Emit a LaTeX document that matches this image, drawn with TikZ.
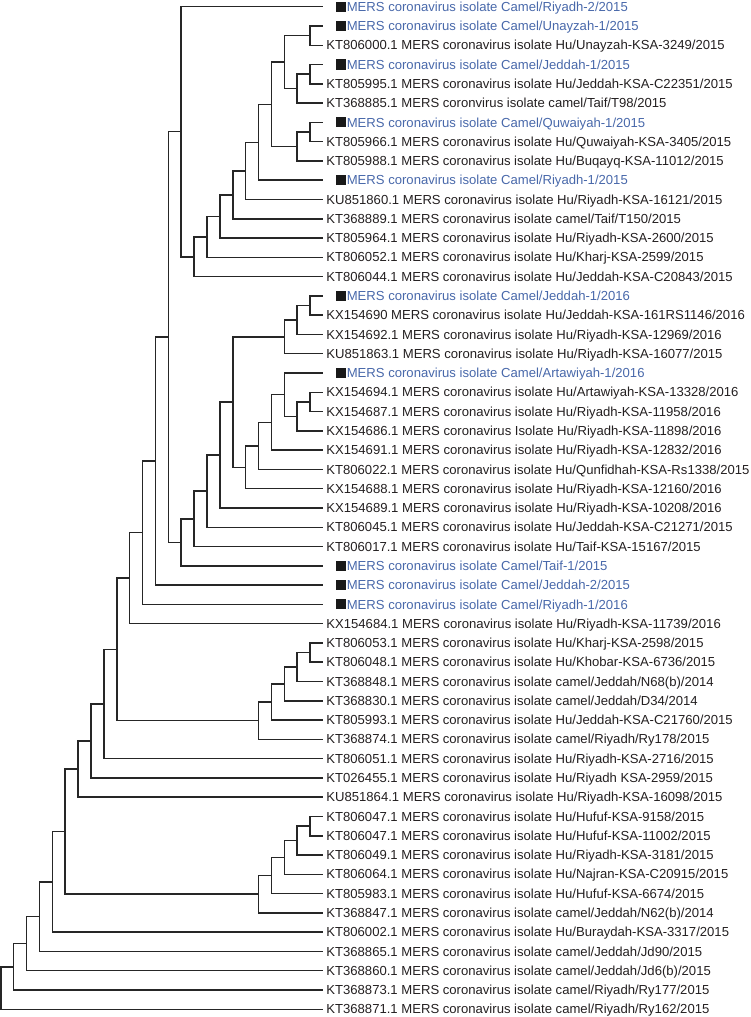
\documentclass[tikz,border=0pt]{standalone}
\usepackage{fontspec}
\setmainfont{Liberation Sans}
\usepackage{tikz}
\usetikzlibrary{calc}
\definecolor{camelblue}{RGB}{72,104,170}
\definecolor{inkgray}{RGB}{35,31,32}
\tikzset{
  branch/.style={line width=1.5pt, color=black!85},
  hutext/.style={anchor=base west, inner sep=0pt, text=inkgray, font=\fontsize{13.1}{15}\selectfont},
  cameltext/.style={hutext, text=camelblue},
  camelbox/.style={fill=black!90, inner sep=0pt, minimum size=10.2pt}
}
% leaf y in px, level step 12.89 px
\def\leafy#1{6.7+19.28*(#1-1)}
\newcommand\hulabel[2]{%
  \coordinate (l#1) at (323,{\leafy{#1}});
  \node[hutext] (t#1) at ([xshift=3.2pt,yshift=-4.65pt]l#1) {#2};}
\newcommand\camellabel[2]{%
  \coordinate (l#1) at (323,{\leafy{#1}});
  \node[camelbox] (s#1) at ([xshift=18pt]l#1) {};
  \node[cameltext] (t#1) at ([xshift=23.6pt,yshift=-4.65pt]l#1) {#2};}
\newcommand\clade[4]{%
  \path let \p1=(#3), \p2=(#4) in ({323-#2*12.89},{0.5*(\y1+\y2)}) coordinate (#1);
  \draw[branch] (#1) |- (#3) (#1) |- (#4);}

\begin{document}
\begin{tikzpicture}[x=1pt,y=-1pt]
  \useasboundingbox (0,0) rectangle (750,1017);
  %%%%% LEAVES %%%%%
  \camellabel{1}{MERS coronavirus isolate Camel/Riyadh-2/2015}
  \camellabel{2}{MERS coronavirus isolate Camel/Unayzah-1/2015}
  \hulabel{3}{KT806000.1 MERS coronavirus isolate Hu/Unayzah-KSA-3249/2015}
  \camellabel{4}{MERS coronavirus isolate Camel/Jeddah-1/2015}
  \hulabel{5}{KT805995.1 MERS coronavirus isolate Hu/Jeddah-KSA-C22351/2015}
  \hulabel{6}{KT368885.1 MERS coronvirus isolate camel/Taif/T98/2015}
  \camellabel{7}{MERS coronavirus isolate Camel/Quwaiyah-1/2015}
  \hulabel{8}{KT805966.1 MERS coronavirus isolate Hu/Quwaiyah-KSA-3405/2015}
  \hulabel{9}{KT805988.1 MERS coronavirus isolate Hu/Buqayq-KSA-11012/2015}
  \camellabel{10}{MERS coronavirus isolate Camel/Riyadh-1/2015}
  \hulabel{11}{KU851860.1 MERS coronavirus isolate Hu/Riyadh-KSA-16121/2015}
  \hulabel{12}{KT368889.1 MERS coronavirus isolate camel/Taif/T150/2015}
  \hulabel{13}{KT805964.1 MERS coronavirus isolate Hu/Riyadh-KSA-2600/2015}
  \hulabel{14}{KT806052.1 MERS coronavirus isolate Hu/Kharj-KSA-2599/2015}
  \hulabel{15}{KT806044.1 MERS coronavirus isolate Hu/Jeddah-KSA-C20843/2015}
  \camellabel{16}{MERS coronavirus isolate Camel/Jeddah-1/2016}
  \hulabel{17}{KX154690 MERS coronavirus isolate Hu/Jeddah-KSA-161RS1146/2016}
  \hulabel{18}{KX154692.1 MERS coronavirus isolate Hu/Riyadh-KSA-12969/2016}
  \hulabel{19}{KU851863.1 MERS coronavirus isolate Hu/Riyadh-KSA-16077/2015}
  \camellabel{20}{MERS coronavirus isolate Camel/Artawiyah-1/2016}
  \hulabel{21}{KX154694.1 MERS coronavirus isolate Hu/Artawiyah-KSA-13328/2016}
  \hulabel{22}{KX154687.1 MERS coronavirus isolate Hu/Riyadh-KSA-11958/2016}
  \hulabel{23}{KX154686.1 MERS coronavirus Isolate Hu/Riyadh-KSA-11898/2016}
  \hulabel{24}{KX154691.1 MERS coronavirus isolate Hu/Riyadh-KSA-12832/2016}
  \hulabel{25}{KT806022.1 MERS coronavirus isolate Hu/Qunfidhah-KSA-Rs1338/2015}
  \hulabel{26}{KX154688.1 MERS coronavirus isolate Hu/Riyadh-KSA-12160/2016}
  \hulabel{27}{KX154689.1 MERS coronavirus isolate Hu/Riyadh-KSA-10208/2016}
  \hulabel{28}{KT806045.1 MERS coronavirus isolate Hu/Jeddah-KSA-C21271/2015}
  \hulabel{29}{KT806017.1 MERS coronavirus isolate Hu/Taif-KSA-15167/2015}
  \camellabel{30}{MERS coronavirus isolate Camel/Taif-1/2015}
  \camellabel{31}{MERS coronavirus isolate Camel/Jeddah-2/2015}
  \camellabel{32}{MERS coronavirus isolate Camel/Riyadh-1/2016}
  \hulabel{33}{KX154684.1 MERS coronavirus isolate Hu/Riyadh-KSA-11739/2016}
  \hulabel{34}{KT806053.1 MERS coronavirus isolate Hu/Kharj-KSA-2598/2015}
  \hulabel{35}{KT806048.1 MERS coronavirus isolate Hu/Khobar-KSA-6736/2015}
  \hulabel{36}{KT368848.1 MERS coronavirus isolate camel/Jeddah/N68(b)/2014}
  \hulabel{37}{KT368830.1 MERS coronavirus isolate camel/Jeddah/D34/2014}
  \hulabel{38}{KT805993.1 MERS coronavirus isolate Hu/Jeddah-KSA-C21760/2015}
  \hulabel{39}{KT368874.1 MERS coronavirus isolate camel/Riyadh/Ry178/2015}
  \hulabel{40}{KT806051.1 MERS coronavirus isolate Hu/Riyadh-KSA-2716/2015}
  \hulabel{41}{KT026455.1 MERS coronavirus isolate Hu/Riyadh KSA-2959/2015}
  \hulabel{42}{KU851864.1 MERS coronavirus isolate Hu/Riyadh-KSA-16098/2015}
  \hulabel{43}{KT806047.1 MERS coronavirus isolate Hu/Hufuf-KSA-9158/2015}
  \hulabel{44}{KT806047.1 MERS coronavirus isolate Hu/Hufuf-KSA-11002/2015}
  \hulabel{45}{KT806049.1 MERS coronavirus isolate Hu/Riyadh-KSA-3181/2015}
  \hulabel{46}{KT806064.1 MERS coronavirus isolate Hu/Najran-KSA-C20915/2015}
  \hulabel{47}{KT805983.1 MERS coronavirus isolate Hu/Hufuf-KSA-6674/2015}
  \hulabel{48}{KT368847.1 MERS coronavirus isolate camel/Jeddah/N62(b)/2014}
  \hulabel{49}{KT806002.1 MERS coronavirus isolate Hu/Buraydah-KSA-3317/2015}
  \hulabel{50}{KT368865.1 MERS coronavirus isolate camel/Jeddah/Jd90/2015}
  \hulabel{51}{KT368860.1 MERS coronavirus isolate camel/Jeddah/Jd6(b)/2015}
  \hulabel{52}{KT368873.1 MERS coronavirus isolate camel/Riyadh/Ry177/2015}
  \hulabel{53}{KT368871.1 MERS coronavirus isolate camel/Riyadh/Ry162/2015}

  %%%%% TOP CLADE %%%%%
  \clade{c23}{1}{l2}{l3}
  \clade{c45}{1}{l4}{l5}
  \clade{c456}{2}{c45}{l6}
  \clade{nI}{3}{c23}{c456}
  \clade{c78}{1}{l7}{l8}
  \clade{nJ}{2}{c78}{l9}
  \clade{nH}{4}{nI}{nJ}
  \clade{nG}{5}{nH}{l10}
  \clade{nF}{6}{nG}{l11}
  \clade{nE}{7}{nF}{l12}
  \clade{nD}{8}{nE}{l13}
  \clade{nC}{9}{nD}{l14}
  \clade{nB}{10}{nC}{l15}
  \clade{nA}{11}{l1}{nB}

  %%%%% 2016 CLADE %%%%%
  \clade{c1617}{1}{l16}{l17}
  \clade{nT}{2}{c1617}{l18}
  \clade{nS}{3}{nT}{l19}
  \clade{c2122}{1}{l21}{l22}
  \clade{nX}{2}{c2122}{l23}
  \clade{nW}{3}{l20}{nX}
  \clade{nV}{4}{nW}{l24}
  \clade{nU}{5}{nV}{l25}
  \clade{nR}{6}{nU}{l26}
  \clade{nQ}{7}{nS}{nR}
  \clade{nP}{8}{nQ}{l27}
  \clade{nO}{9}{nP}{l28}
  \clade{nN}{10}{nO}{l29}
  \clade{nM}{11}{nN}{l30}
  \clade{nL}{12}{nA}{nM}
  \clade{nY}{13}{nL}{l31}
  \clade{nZ}{14}{nY}{l32}
  \clade{nAA}{15}{nZ}{l33}

  %%%%% KHARJ / JEDDAH %%%%%
  \clade{c3435}{1}{l34}{l35}
  \clade{k36}{2}{c3435}{l36}
  \clade{k37}{3}{k36}{l37}
  \clade{k38}{4}{k37}{l38}
  \clade{nAC}{5}{k38}{l39}
  \clade{nAB}{16}{nAA}{nAC}
  \clade{nAD}{17}{nAB}{l40}
  \clade{nAE}{18}{nAD}{l41}
  \clade{nAF}{19}{nAE}{l42}

  %%%%% HUFUF CLADE AND BASE %%%%%
  \clade{c4344}{1}{l43}{l44}
  \clade{h45}{2}{c4344}{l45}
  \clade{h46}{3}{h45}{l46}
  \clade{h47}{4}{h46}{l47}
  \clade{nAH}{5}{h47}{l48}
  \clade{nAG}{20}{nAF}{nAH}
  \clade{nAI}{21}{nAG}{l49}
  \clade{nAJ}{22}{nAI}{l50}
  \clade{nAK}{23}{nAJ}{l51}
  \clade{nAL}{24}{nAK}{l52}
  \clade{root}{25}{nAL}{l53}
\end{tikzpicture}
\end{document}
